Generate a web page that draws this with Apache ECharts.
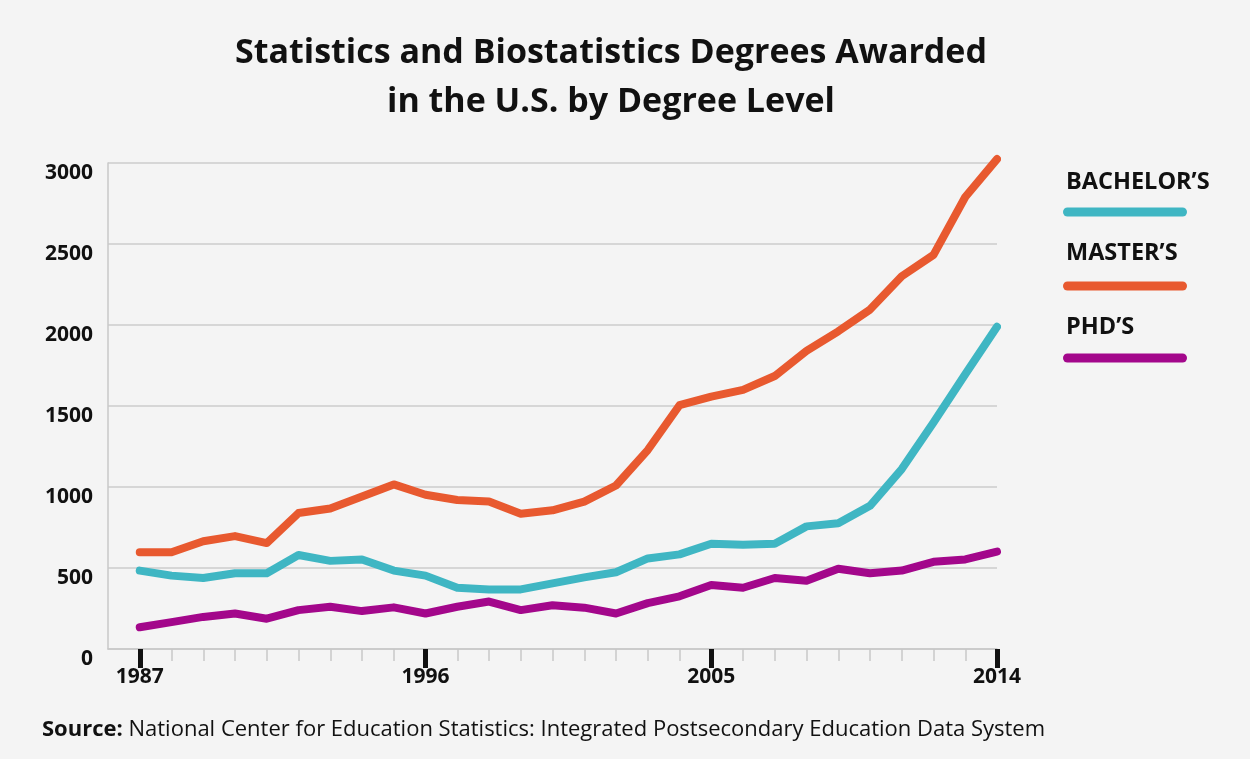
<!DOCTYPE html>
<html>
<head>
<meta charset="utf-8">
<script src="https://cdn.jsdelivr.net/npm/echarts@6/dist/echarts.min.js"></script>
<style>
  html, body { margin: 0; padding: 0; background: #f4f4f4; }
  #chart { width: 1250px; height: 759px; }
</style>
</head>
<body>
<div id="chart"></div>
<script>
// 数据
const years = [1987, 1988, 1989, 1990, 1991, 1992, 1993, 1994, 1995, 1996, 1997, 1998, 1999, 2000,
               2001, 2002, 2003, 2004, 2005, 2006, 2007, 2008, 2009, 2010, 2011, 2012, 2013, 2014];
const bachelors = [484, 453, 438, 468, 468, 580, 544, 553, 484, 453, 378, 368, 368, 405,
                   442, 474, 559, 584, 650, 644, 650, 757, 776, 884, 1111, 1398, 1696, 1989];
const masters = [597, 597, 665, 697, 654, 839, 867, 941, 1016, 952, 920, 910, 835, 856,
                 910, 1009, 1228, 1505, 1558, 1600, 1685, 1840, 1961, 2095, 2301, 2433, 2790, 3024];
const phds = [134, 166, 198, 219, 187, 240, 261, 234, 257, 219, 261, 293, 240, 270,
              255, 219, 283, 325, 395, 378, 438, 421, 495, 468, 484, 538, 553, 601];
const seriesNames = ["BACHELOR\u2019S", "MASTER\u2019S", "PHD\u2019S"];
const majorYears = [1987, 1996, 2005, 2014];
const minorYears = years.filter(y => majorYears.indexOf(y) === -1);

const colors = ['#3fb6c3', '#e8592f', '#a3078b'];
const font = '"Open Sans", "Noto Sans", sans-serif';

function pairs(values) {
    return years.map((y, i) => [y, values[i]]);
}

// 图例（文字在上，色条在下）
function buildLegend() {
    const items = [];
    const textY = [182, 253, 327];
    const barY = [212, 286, 358];
    seriesNames.forEach((name, i) => {
        items.push({
            type: 'text', x: 1066, y: textY[i],
            style: { text: name, font: 'bold 23.5px ' + font, fill: '#111', textVerticalAlign: 'middle' }
        });
        items.push({
            type: 'rect', shape: { x: 1063, y: barY[i] - 4.5, width: 124, height: 9, r: 4.5 },
            style: { fill: colors[i] }
        });
    });
    return items;
}

const chart = echarts.init(document.getElementById('chart'));

const option = {
    backgroundColor: '#f4f4f4',
    animation: false,
    grid: { left: 108, right: 253, top: 163, bottom: 110 },
    xAxis: [{
        type: 'value', min: 1986, max: 2014, interval: 1,
        splitLine: { show: false },
        axisLine: { show: true, lineStyle: { color: '#c8c8c8', width: 1.5 } },
        axisTick: { show: true, customValues: minorYears, length: 12, lineStyle: { color: '#c8c8c8', width: 1.5 } },
        axisLabel: { show: false }
    }, {
        type: 'value', min: 1986, max: 2014, interval: 1, position: 'bottom',
        splitLine: { show: false },
        axisLine: { show: false },
        axisTick: { show: true, customValues: majorYears, length: 19, lineStyle: { color: '#111', width: 5 } },
        axisLabel: {
            show: true, customValues: majorYears, margin: 18,
            formatter: v => String(v),
            fontFamily: font, fontWeight: 'bold', fontSize: 21, color: '#111'
        }
    }],
    yAxis: {
        type: 'value', min: 0, max: 3000, interval: 500,
        axisLine: { show: true, lineStyle: { color: '#c8c8c8', width: 1.5 } },
        axisTick: { show: false },
        splitLine: { show: true, lineStyle: { color: '#cccccc', width: 1.5 } },
        axisLabel: {
            margin: 15, verticalAlign: 'top',
            formatter: v => String(v),
            fontFamily: font, fontWeight: 'bold', fontSize: 21, color: '#111'
        }
    },
    series: [bachelors, masters, phds].map((values, i) => ({
        name: seriesNames[i],
        type: 'line',
        data: pairs(values),
        symbol: 'none',
        clip: false,
        lineStyle: { color: colors[i], width: 8, cap: 'round', join: 'round' }
    })),
    graphic: [{
        type: 'text', x: 611, y: 78,
        style: {
            text: 'Statistics and Biostatistics Degrees Awarded\nin the U.S. by Degree Level',
            font: 'bold 34px ' + font, lineHeight: 49, fill: '#111',
            textAlign: 'center', textVerticalAlign: 'middle'
        }
    }, {
        type: 'text', x: 42, y: 730,
        style: {
            text: '{b|Source:} National Center for Education Statistics: Integrated Postsecondary Education Data System',
            font: '22px ' + font, fill: '#111', textVerticalAlign: 'middle',
            rich: { b: { fontWeight: 'bold', fontSize: 22, fontFamily: font, fill: '#111' } }
        }
    }].concat(buildLegend())
};

chart.setOption(option);
</script>
</body>
</html>
